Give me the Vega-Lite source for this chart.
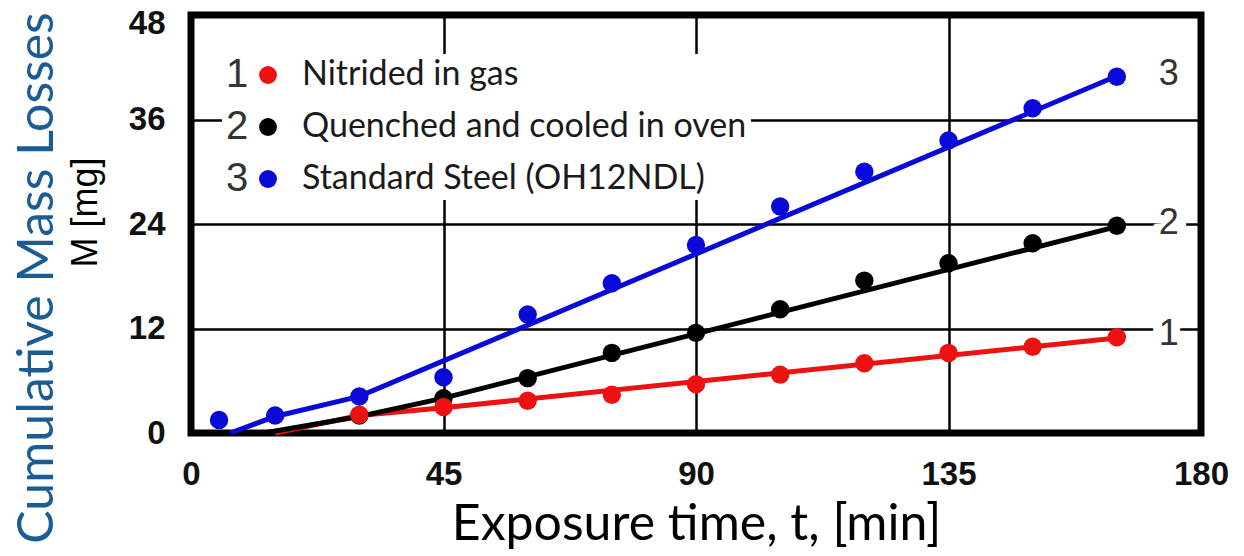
{
  "$schema": "https://vega.github.io/schema/vega-lite/v6.json",
  "autosize": {"type": "none"},
  "padding": {"left": 191, "top": 15, "right": 43, "bottom": 123},
  "width": 1010,
  "height": 418,
  "background": "white",
  "title": {
    "text": "Cumulative Mass Losses",
    "orient": "left",
    "anchor": "middle",
    "frame": "bounds",
    "font": "Lato",
    "fontSize": 50,
    "fontWeight": "normal",
    "color": "#1B5C94",
    "offset": 4
  },
  "config": {
    "view": {"stroke": "black", "strokeWidth": 7},
    "axis": {
      "grid": true,
      "gridColor": "black",
      "gridWidth": 2.5,
      "gridOpacity": 1,
      "domain": false,
      "ticks": false,
      "labelFont": "Liberation Sans",
      "labelFontWeight": "bold",
      "labelFontSize": 33,
      "labelColor": "#111111",
      "labelFlush": false,
      "labelOverlap": false
    }
  },
  "datasets": {
    "pts": [
      {"series": "Quenched and cooled in oven", "num": "2", "t": 30, "M": 2.0},
      {"series": "Quenched and cooled in oven", "num": "2", "t": 45, "M": 4.0},
      {"series": "Quenched and cooled in oven", "num": "2", "t": 60, "M": 6.3},
      {"series": "Quenched and cooled in oven", "num": "2", "t": 75, "M": 9.2},
      {"series": "Quenched and cooled in oven", "num": "2", "t": 90, "M": 11.5},
      {"series": "Quenched and cooled in oven", "num": "2", "t": 105, "M": 14.2},
      {"series": "Quenched and cooled in oven", "num": "2", "t": 120, "M": 17.5},
      {"series": "Quenched and cooled in oven", "num": "2", "t": 135, "M": 19.5},
      {"series": "Quenched and cooled in oven", "num": "2", "t": 150, "M": 21.8},
      {"series": "Quenched and cooled in oven", "num": "2", "t": 165, "M": 23.8},
      {"series": "Nitrided in gas", "num": "1", "t": 30, "M": 2.1},
      {"series": "Nitrided in gas", "num": "1", "t": 45, "M": 3.0},
      {"series": "Nitrided in gas", "num": "1", "t": 60, "M": 3.7},
      {"series": "Nitrided in gas", "num": "1", "t": 75, "M": 4.4},
      {"series": "Nitrided in gas", "num": "1", "t": 90, "M": 5.6},
      {"series": "Nitrided in gas", "num": "1", "t": 105, "M": 6.7},
      {"series": "Nitrided in gas", "num": "1", "t": 120, "M": 8.0},
      {"series": "Nitrided in gas", "num": "1", "t": 135, "M": 9.2},
      {"series": "Nitrided in gas", "num": "1", "t": 150, "M": 9.9},
      {"series": "Nitrided in gas", "num": "1", "t": 165, "M": 11.0},
      {"series": "Standard Steel (OH12NDL)", "num": "3", "t": 5, "M": 1.5},
      {"series": "Standard Steel (OH12NDL)", "num": "3", "t": 15, "M": 2.0},
      {"series": "Standard Steel (OH12NDL)", "num": "3", "t": 30, "M": 4.2},
      {"series": "Standard Steel (OH12NDL)", "num": "3", "t": 45, "M": 6.4},
      {"series": "Standard Steel (OH12NDL)", "num": "3", "t": 60, "M": 13.6},
      {"series": "Standard Steel (OH12NDL)", "num": "3", "t": 75, "M": 17.2},
      {"series": "Standard Steel (OH12NDL)", "num": "3", "t": 90, "M": 21.6},
      {"series": "Standard Steel (OH12NDL)", "num": "3", "t": 105, "M": 26.0},
      {"series": "Standard Steel (OH12NDL)", "num": "3", "t": 120, "M": 30.0},
      {"series": "Standard Steel (OH12NDL)", "num": "3", "t": 135, "M": 33.6},
      {"series": "Standard Steel (OH12NDL)", "num": "3", "t": 150, "M": 37.3},
      {"series": "Standard Steel (OH12NDL)", "num": "3", "t": 165, "M": 40.9}
    ],
    "fit": [
      {"series": "Quenched and cooled in oven", "t": 13, "M": 0},
      {"series": "Quenched and cooled in oven", "t": 30, "M": 1.9},
      {"series": "Quenched and cooled in oven", "t": 45, "M": 4.0},
      {"series": "Quenched and cooled in oven", "t": 165, "M": 23.7},
      {"series": "Nitrided in gas", "t": 15, "M": 0},
      {"series": "Nitrided in gas", "t": 30, "M": 2.0},
      {"series": "Nitrided in gas", "t": 45, "M": 2.9},
      {"series": "Nitrided in gas", "t": 165, "M": 10.9},
      {"series": "Standard Steel (OH12NDL)", "t": 7, "M": 0},
      {"series": "Standard Steel (OH12NDL)", "t": 15, "M": 1.9},
      {"series": "Standard Steel (OH12NDL)", "t": 30, "M": 4.2},
      {"series": "Standard Steel (OH12NDL)", "t": 165, "M": 41.0}
    ]
  },
  "encoding": {
    "x": {
      "field": "t",
      "type": "quantitative",
      "scale": {"domain": [0, 180], "nice": false, "zero": false},
      "axis": {
        "values": [0, 45, 90, 135, 180],
        "labelPadding": 25,
        "title": "Exposure time, t, [min]",
        "titleFont": "Lato",
        "titleFontSize": 50,
        "titleFontWeight": "normal",
        "titleColor": "black",
        "titlePadding": 8
      }
    },
    "y": {
      "field": "M",
      "type": "quantitative",
      "scale": {"domain": [0, 48], "nice": false},
      "axis": {
        "values": [0, 12, 24, 36, 48],
        "labelPadding": 26,
        "labelOffset": {"condition": {"test": "datum.value == 48", "value": 8}, "value": 0},
        "title": "M [mg]",
        "titleFont": "Liberation Sans",
        "titleFontSize": 36,
        "titleFontWeight": "normal",
        "titleColor": "black",
        "titleAngle": 270,
        "titleBaseline": "middle",
        "titleAlign": "center",
        "titleX": -106,
        "titleY": 197
      }
    }
  },
  "layer": [
    {
      "data": {"name": "fit"},
      "transform": [{"filter": "datum.series == 'Nitrided in gas'"}],
      "mark": {"type": "line", "strokeWidth": 5, "color": "#EE1111"},
      "encoding": {"order": {"field": "t"}}
    },
    {
      "data": {"name": "fit"},
      "transform": [{"filter": "datum.series == 'Quenched and cooled in oven'"}],
      "mark": {"type": "line", "strokeWidth": 5, "color": "#000000"},
      "encoding": {"order": {"field": "t"}}
    },
    {
      "data": {"name": "fit"},
      "transform": [{"filter": "datum.series == 'Standard Steel (OH12NDL)'"}],
      "mark": {"type": "line", "strokeWidth": 5, "color": "#0A0AD8"},
      "encoding": {"order": {"field": "t"}}
    },
    {
      "data": {"name": "pts"},
      "mark": {"type": "point", "filled": true, "size": 340, "opacity": 1},
      "encoding": {
        "color": {
          "field": "series",
          "type": "nominal",
          "scale": {
            "domain": ["Nitrided in gas", "Quenched and cooled in oven", "Standard Steel (OH12NDL)"],
            "range": ["#EE1111", "#000000", "#0A0AD8"]
          },
          "legend": {
            "orient": "none",
            "legendX": 31,
            "legendY": 39,
            "title": null,
            "padding": 4,
            "fillColor": "white",
            "symbolType": "circle",
            "symbolSize": 320,
            "symbolStrokeWidth": 0,
            "symbolOpacity": 1,
            "symbolOffset": 25,
            "labelFont": "Lato",
            "labelFontSize": 34,
            "labelColor": "#1a1a1a",
            "labelOffset": 17,
            "labelLimit": 700,
            "rowPadding": 18
          }
        },
        "shape": {
          "field": "num",
          "type": "nominal",
          "scale": {"domain": ["1", "2", "3"], "range": ["circle", "circle", "circle"]},
          "legend": {
            "orient": "none",
            "legendX": -9,
            "legendY": 36,
            "title": null,
            "padding": 4,
            "symbolSize": 0,
            "symbolStrokeWidth": 0,
            "symbolOpacity": 0,
            "labelFont": "Liberation Sans",
            "labelFontSize": 40,
            "labelColor": "#333333",
            "labelOffset": 0,
            "rowPadding": 12
          }
        }
      }
    },
    {
      "data": {"name": "pts"},
      "transform": [{"filter": "datum.t == 165"}],
      "mark": {"type": "text", "font": "Liberation Sans", "fontSize": 36, "dx": 52, "dy": -3, "align": "center", "baseline": "middle", "stroke": "white", "strokeWidth": 18, "fill": "white"},
      "encoding": {"text": {"field": "num"}}
    },
    {
      "data": {"name": "pts"},
      "transform": [{"filter": "datum.t == 165"}],
      "mark": {"type": "text", "font": "Liberation Sans", "fontSize": 36, "dx": 52, "dy": -3, "align": "center", "baseline": "middle", "fill": "#333333"},
      "encoding": {"text": {"field": "num"}}
    }
  ]
}
